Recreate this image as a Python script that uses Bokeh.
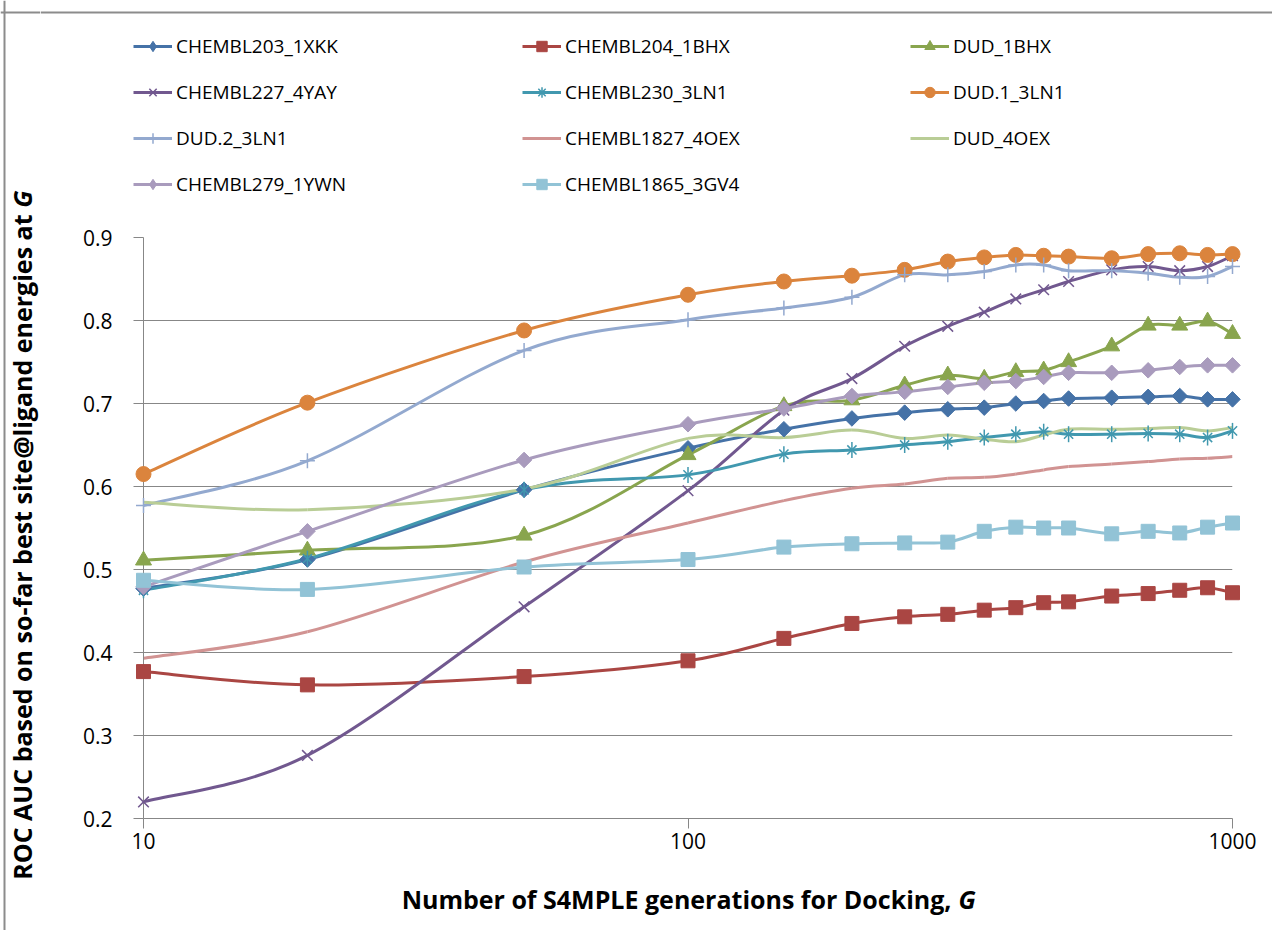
import math
from bokeh.plotting import figure
from bokeh.layouts import row, column
from bokeh.models import (Range1d, FixedTicker, NumeralTickFormatter, Legend,
                          LegendItem, Label, ColumnDataSource, Span)
from bokeh.embed import file_html
from bokeh.resources import INLINE

# ---------------- data ----------------
generations = [10, 20, 50, 100, 150, 200, 250, 300, 350, 400, 450, 500, 600, 700, 800, 900, 1000]

chembl203_1xkk = [0.477, 0.512, 0.596, 0.646, 0.669, 0.682, 0.689, 0.693, 0.695, 0.700, 0.703, 0.706, 0.707, 0.708, 0.709, 0.705, 0.705]
chembl204_1bhx = [0.377, 0.361, 0.371, 0.390, 0.417, 0.435, 0.443, 0.446, 0.451, 0.454, 0.460, 0.461, 0.468, 0.471, 0.475, 0.478, 0.472]
dud_1bhx = [0.511, 0.523, 0.541, 0.638, 0.697, 0.704, 0.722, 0.734, 0.730, 0.738, 0.740, 0.750, 0.769, 0.794, 0.794, 0.799, 0.784]
chembl227_4yay = [0.220, 0.276, 0.455, 0.595, 0.692, 0.730, 0.769, 0.793, 0.810, 0.826, 0.837, 0.847, 0.861, 0.865, 0.860, 0.865, 0.878]
chembl230_3ln1 = [0.475, 0.513, 0.596, 0.614, 0.639, 0.644, 0.650, 0.654, 0.659, 0.663, 0.666, 0.663, 0.663, 0.664, 0.663, 0.659, 0.667]
dud1_3ln1 = [0.615, 0.701, 0.788, 0.831, 0.847, 0.854, 0.861, 0.871, 0.876, 0.879, 0.878, 0.877, 0.875, 0.880, 0.881, 0.879, 0.880]
dud2_3ln1 = [0.577, 0.631, 0.764, 0.801, 0.815, 0.828, 0.855, 0.855, 0.859, 0.867, 0.867, 0.860, 0.860, 0.857, 0.852, 0.853, 0.865]
chembl1827_4oex = [0.393, 0.425, 0.509, 0.556, 0.583, 0.598, 0.603, 0.610, 0.611, 0.615, 0.620, 0.624, 0.627, 0.630, 0.633, 0.634, 0.636]
dud_4oex = [0.581, 0.572, 0.597, 0.658, 0.659, 0.668, 0.658, 0.662, 0.657, 0.654, 0.662, 0.669, 0.669, 0.670, 0.671, 0.667, 0.671]
chembl279_1ywn = [0.479, 0.546, 0.632, 0.675, 0.694, 0.709, 0.714, 0.720, 0.725, 0.727, 0.732, 0.737, 0.737, 0.740, 0.744, 0.746, 0.746]
chembl1865_3gv4 = [0.487, 0.476, 0.503, 0.512, 0.527, 0.531, 0.532, 0.533, 0.546, 0.551, 0.550, 0.550, 0.543, 0.546, 0.544, 0.551, 0.556]

series_names = ["CHEMBL203_1XKK", "CHEMBL204_1BHX", "DUD_1BHX", "CHEMBL227_4YAY",
                "CHEMBL230_3LN1", "DUD.1_3LN1", "DUD.2_3LN1", "CHEMBL1827_4OEX",
                "DUD_4OEX", "CHEMBL279_1YWN", "CHEMBL1865_3GV4"]
series_values = [chembl203_1xkk, chembl204_1bhx, dud_1bhx, chembl227_4yay,
                 chembl230_3ln1, dud1_3ln1, dud2_3ln1, chembl1827_4oex,
                 dud_4oex, chembl279_1ywn, chembl1865_3gv4]
series_colors = ["#4572A7", "#AA4643", "#89A54E", "#71588F", "#4198AF", "#DB843D",
                 "#93A9CF", "#D19392", "#B9CD96", "#A99BBD", "#92C3D6"]
series_markers = ["diamond", "square", "triangle", "x", "star", "circle",
                  "cross", None, None, "diamond", "square"]

y_ticks = [0.2, 0.3, 0.4, 0.5, 0.6, 0.7, 0.8, 0.9]
x_ticks = [10, 100, 1000]

x_title = "Number of S4MPLE generations for Docking,"
y_title = "ROC AUC based on so-far best site@ligand energies at"
title_var = "G"

FONT = "Open Sans"
BORDER = "#8c8c8c"

# layout sizes (px)
TOTAL_H = 930
LEFT_W = 40
RIGHT_W = 1232
LEG_H = 200
MAIN_H = 668
XT_H = TOTAL_H - LEG_H - MAIN_H


def blank_fig(w, h):
    f = figure(width=w, height=h, x_range=Range1d(0, w), y_range=Range1d(0, h),
               output_backend="svg", toolbar_location=None, min_border=0,
               x_axis_location=None, y_axis_location=None)
    f.outline_line_color = None
    f.xgrid.visible = False
    f.ygrid.visible = False
    f.frame_align = False
    return f


# ---------------- main chart ----------------
p = figure(width=RIGHT_W, height=MAIN_H, x_axis_type="log",
           x_range=Range1d(10, 1000), y_range=Range1d(0.2, 0.9),
           output_backend="svg", toolbar_location=None,
           min_border_left=103, min_border_right=RIGHT_W + LEFT_W - 1232,
           min_border_top=37, min_border_bottom=MAIN_H - 37 - 581)
p.frame_align = False
p.outline_line_color = None
p.xgrid.grid_line_color = None
p.ygrid.grid_line_color = "#878787"
p.ygrid.grid_line_width = 1
p.ygrid.ticker = FixedTicker(ticks=y_ticks)
p.yaxis.ticker = FixedTicker(ticks=y_ticks)
p.yaxis.formatter = NumeralTickFormatter(format="0.0")
p.xaxis.ticker = FixedTicker(ticks=x_ticks, minor_ticks=[])
p.xaxis.formatter = NumeralTickFormatter(format="0")
for ax in (p.xaxis, p.yaxis):
    ax.axis_line_color = "#878787"
    ax.major_tick_line_color = "#878787"
    ax.major_tick_out = 10
    ax.major_tick_in = 0
    ax.minor_tick_line_color = None
    ax.major_label_text_font = FONT
    ax.major_label_text_font_size = "21px"
    ax.major_label_text_color = "black"
p.yaxis.major_label_standoff = 21
p.xaxis.major_label_standoff = 4


def smooth_segments(xs, ys):
    """Excel-like smoothed path: cubic Bezier control points from neighbours."""
    lx = [math.log10(v) for v in xs]
    n = len(xs)
    d = dict(x0=[], y0=[], x1=[], y1=[], cx0=[], cy0=[], cx1=[], cy1=[])
    for i in range(n - 1):
        a = i - 1 if i > 0 else i
        b = i + 2 if i + 2 < n else i + 1
        c0x = lx[i] + (lx[i + 1] - lx[a]) / 6.0
        c0y = ys[i] + (ys[i + 1] - ys[a]) / 6.0
        c1x = lx[i + 1] - (lx[b] - lx[i]) / 6.0
        c1y = ys[i + 1] - (ys[b] - ys[i]) / 6.0
        d["x0"].append(xs[i]); d["y0"].append(ys[i])
        d["x1"].append(xs[i + 1]); d["y1"].append(ys[i + 1])
        d["cx0"].append(10 ** c0x); d["cy0"].append(c0y)
        d["cx1"].append(10 ** c1x); d["cy1"].append(c1y)
    return d


def add_markers(fig, src, mk, col, legend=False):
    out = []
    if mk == "diamond":
        if legend:
            out.append(fig.scatter("x", "y", source=src, marker="diamond", size=15,
                                   fill_color=col, line_color=col, line_width=1))
        else:
            out.append(fig.scatter("x", "y", source=src, marker="square", angle=math.pi / 4,
                                   size=11, fill_color=col, line_color=col, line_width=1))
    elif mk == "square":
        out.append(fig.scatter("x", "y", source=src, marker="square", size=14,
                               fill_color=col, line_color=col, line_width=1))
    elif mk == "circle":
        out.append(fig.scatter("x", "y", source=src, marker="circle", size=15,
                               fill_color=col, line_color=col, line_width=1))
    elif mk == "triangle":
        out.append(fig.scatter("x", "y", source=src, marker="triangle", size=16,
                               fill_color=col, line_color=col, line_width=1))
    elif mk == "x":
        out.append(fig.scatter("x", "y", source=src, marker="x", size=15,
                               line_color=col, line_width=1.5))
    elif mk == "cross":
        out.append(fig.scatter("x", "y", source=src, marker="cross", size=15,
                               line_color=col, line_width=1.5))
    elif mk == "star":
        if legend:
            out.append(fig.scatter("x", "y", source=src, marker="asterisk", size=15,
                                   line_color=col, line_width=1.5))
        else:
            out.append(fig.scatter("x", "y", source=src, marker="x", size=13,
                                   line_color=col, line_width=1.5))
            out.append(fig.scatter("x", "y", source=src, marker="dash", angle=math.pi / 2,
                                   size=16, line_color=col, line_width=1.5))
    return out


for name, vals, col, mk in zip(series_names, series_values, series_colors, series_markers):
    seg = ColumnDataSource(smooth_segments(generations, vals))
    p.bezier(x0="x0", y0="y0", x1="x1", y1="y1", cx0="cx0", cy0="cy0",
             cx1="cx1", cy1="cy1", source=seg, line_color=col, line_width=3)
    src = ColumnDataSource(dict(x=generations, y=vals))
    for r in add_markers(p, src, mk, col):
        r.level = "overlay"

# ---------------- legend strip ----------------
lf = blank_fig(RIGHT_W, LEG_H)
legend_items = {}
for name, vals, col, mk in zip(series_names, series_values, series_colors, series_markers):
    proxy = ColumnDataSource(dict(x=generations, y=vals))
    rs = [lf.line("x", "y", source=proxy, line_color=col, line_width=3)]
    rs += add_markers(lf, proxy, mk, col, legend=True)
    for r in rs:
        r.visible = False  # legend proxies only
    legend_items[name] = rs

columns = [
    ["CHEMBL203_1XKK", "CHEMBL227_4YAY", "DUD.2_3LN1", "CHEMBL279_1YWN"],
    ["CHEMBL204_1BHX", "CHEMBL230_3LN1", "CHEMBL1827_4OEX", "CHEMBL1865_3GV4"],
    ["DUD_1BHX", "DUD.1_3LN1", "DUD_4OEX"],
]
col_x = [133 - LEFT_W, 522 - LEFT_W, 910 - LEFT_W]
for names, vx in zip(columns, col_x):
    n = len(names)
    h = n * 26 + (n - 1) * 20
    vy = LEG_H - (33 + h)
    lg = Legend(items=[LegendItem(label=nm, renderers=legend_items[nm]) for nm in names],
                location=(vx, vy), orientation="vertical",
                glyph_width=39, glyph_height=26, label_height=26,
                label_standoff=4, spacing=20, padding=0, margin=0,
                border_line_alpha=0, background_fill_alpha=0,
                inactive_fill_alpha=0,
                label_text_font=FONT, label_text_font_size="19px",
                label_text_color="black")
    lf.add_layout(lg, "center")
lf.add_layout(Span(location=LEG_H - 12, dimension="width", line_color=BORDER, line_width=2))

# ---------------- y title strip ----------------
yf = blank_fig(LEFT_W, TOTAL_H)
yf.add_layout(Span(location=4, dimension="height", line_color=BORDER, line_width=2))
yf.add_layout(Span(location=TOTAL_H - 12, dimension="width", line_color=BORDER, line_width=2))
yf.add_layout(Label(x=21, y=TOTAL_H - 214, text=y_title, angle=math.pi / 2,
                    text_align="right", text_baseline="middle",
                    text_font=FONT, text_font_size="25px", text_font_style="bold",
                    text_color="black"))
yf.add_layout(Label(x=21, y=TOTAL_H - 190, text=title_var, angle=math.pi / 2,
                    text_align="right", text_baseline="middle",
                    text_font=FONT, text_font_size="25px", text_font_style="bold italic",
                    text_color="black"))

# ---------------- x title strip ----------------
xf = blank_fig(RIGHT_W, XT_H)
xf.add_layout(Label(x=951 - LEFT_W, y=XT_H - (898 - LEG_H - MAIN_H), text=x_title,
                    text_align="right", text_baseline="middle",
                    text_font=FONT, text_font_size="25px", text_font_style="bold",
                    text_color="black"))
xf.add_layout(Label(x=958 - LEFT_W, y=XT_H - (898 - LEG_H - MAIN_H), text=title_var,
                    text_align="left", text_baseline="middle",
                    text_font=FONT, text_font_size="25px", text_font_style="bold italic",
                    text_color="black"))

layout = row(yf, column(lf, p, xf, spacing=0), spacing=0)
open("out.html", "w").write(file_html(layout, INLINE))
